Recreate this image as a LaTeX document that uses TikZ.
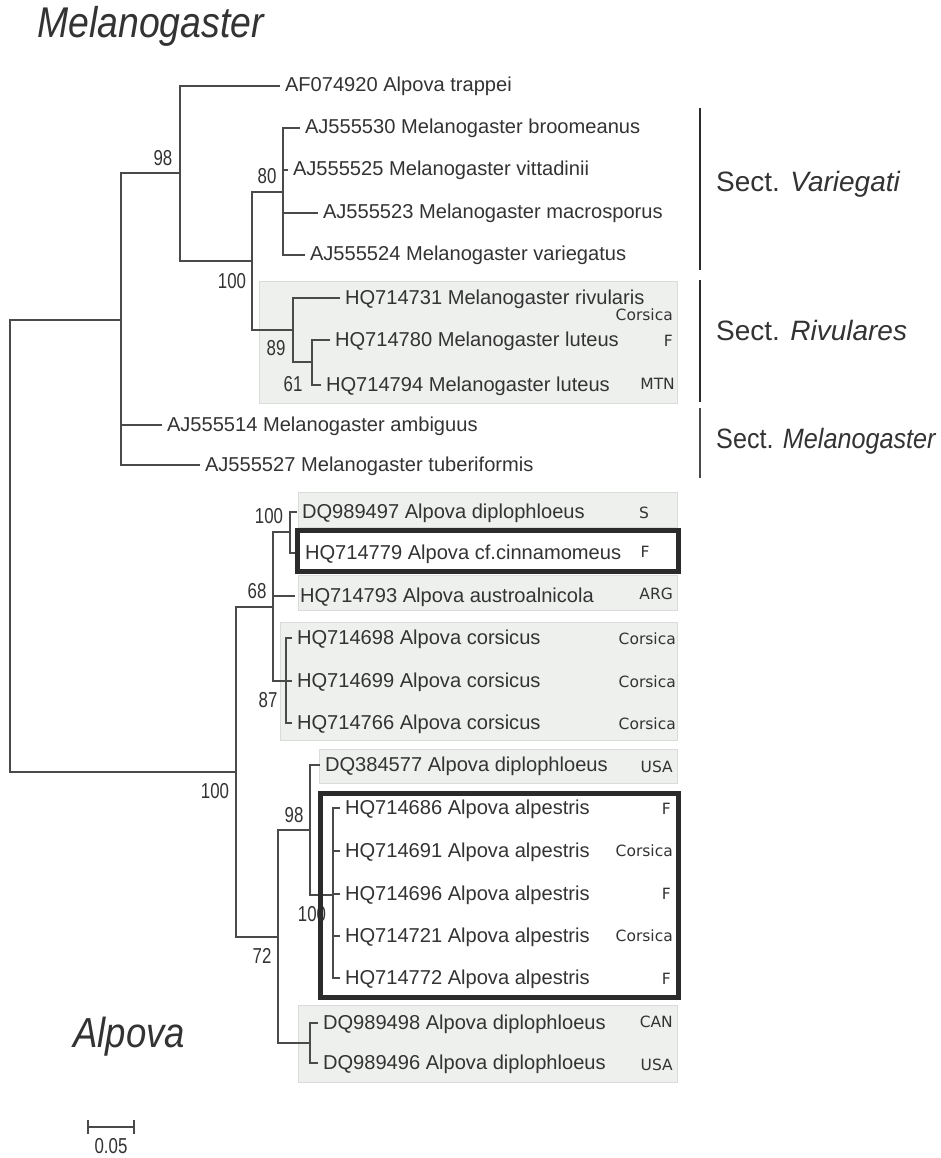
\documentclass[tikz,border=0pt]{standalone}
\usepackage{fontspec}
\setmainfont{Liberation Sans}
\newfontfamily\regfont{DejaVu Sans}
\definecolor{txt}{HTML}{333333}
\definecolor{br}{HTML}{4A4A4A}
\definecolor{boxfill}{HTML}{EEF0EE}
\definecolor{boxedge}{HTML}{D9DCD9}
\definecolor{thick}{HTML}{2B2B2B}
\newcommand{\bsn}[1]{\scalebox{0.78}[1]{#1}}
\begin{document}
\begin{tikzpicture}[x=1pt,y=-1pt,
 branch/.style={draw=br, line width=1.1pt},
 leaf/.style={anchor=west, inner xsep=5pt, inner ysep=0pt, outer sep=0pt, text=txt, font=\fontsize{20.1}{24}\selectfont, text height=15pt, text depth=3pt},
 reg/.style={anchor=east, inner sep=0pt, text=txt, font=\regfont\fontsize{15.5}{17}\selectfont, text height=11pt, text depth=0pt},
 bs/.style={inner sep=0pt, text=txt, font=\fontsize{21.6}{24}\selectfont, text height=15.5pt, text depth=0pt},
 shade/.style={fill=boxfill, draw=boxedge, line width=0.8pt},
 hilite/.style={draw=thick, line width=5pt},
 sect/.style={anchor=west, inner sep=0pt, text=txt, font=\fontsize{28}{32}\selectfont, text height=20pt, text depth=0pt},
 bar/.style={draw=thick, line width=2pt},
 big/.style={anchor=base west, inner sep=0pt, text=txt, font=\fontsize{43}{48}\selectfont\itshape},
]
\useasboundingbox (0,0) rectangle (940,1158);
\fill[white] (0,0) rectangle (940,1158);

% shaded boxes
\draw[shade] (259,281) rectangle (677,403);
\draw[shade] (298,492) rectangle (677,527);
\draw[shade] (298,575) rectangle (677,610);
\draw[shade] (280,622) rectangle (677,740);
\draw[shade] (319,749) rectangle (677,783);
\draw[shade] (298,1005) rectangle (677,1082);
\fill[white] (297,530) rectangle (678,571);
\fill[white] (320,793) rectangle (678,997);

% titles
\node[big] (title) at (37,38) {\scalebox{0.87}[1]{Melanogaster}};
\node[big, font=\fontsize{42}{48}\selectfont\itshape] (alp) at (73,1047) {\scalebox{0.87}[1]{Alpova}};

% internal nodes
\coordinate (R) at (10,546);
\coordinate (M0) at (121,320);
\coordinate (M98) at (180,173);
\coordinate (M100) at (252,261);
\coordinate (M80) at (283,192);
\coordinate (M89) at (293,330);
\coordinate (M61) at (312,362);
\coordinate (A100) at (236,772);
\coordinate (A68) at (273,607);
\coordinate (A100b) at (290,532);
\coordinate (A87) at (286,681);
\coordinate (A72) at (278,937);
\coordinate (A98) at (310,830);
\coordinate (A100c) at (333,895);
\coordinate (Abot) at (310,1043);

% leaves
\node[leaf] (l1) at (280,86) {AF074920 Alpova trappei};
\node[leaf] (l2) at (300,128) {AJ555530 Melanogaster broomeanus};
\node[leaf] (l3) at (288,170) {AJ555525 Melanogaster vittadinii};
\node[leaf] (l4) at (318,213) {AJ555523 Melanogaster macrosporus};
\node[leaf] (l5) at (305,255) {AJ555524 Melanogaster variegatus};
\node[leaf] (l6) at (340,298) {HQ714731 Melanogaster rivularis};
\node[leaf] (l7) at (330,340) {HQ714780 Melanogaster luteus};
\node[leaf] (l8) at (321,385) {HQ714794 Melanogaster luteus};
\node[leaf] (l9) at (162,425) {AJ555514 Melanogaster ambiguus};
\node[leaf] (l10) at (200,465) {AJ555527 Melanogaster tuberiformis};
\node[leaf] (l11) at (297,512) {DQ989497 Alpova diplophloeus};
\node[leaf] (l12) at (300,553) {HQ714779 Alpova cf.cinnamomeus};
\node[leaf] (l13) at (295,596) {HQ714793 Alpova austroalnicola};
\node[leaf] (l14) at (292,638) {HQ714698 Alpova corsicus};
\node[leaf] (l15) at (292,681) {HQ714699 Alpova corsicus};
\node[leaf] (l16) at (292,723) {HQ714766 Alpova corsicus};
\node[leaf] (l17) at (320,765) {DQ384577 Alpova diplophloeus};
\node[leaf] (l18) at (340,808) {HQ714686 Alpova alpestris};
\node[leaf] (l19) at (340,851) {HQ714691 Alpova alpestris};
\node[leaf] (l20) at (340,894) {HQ714696 Alpova alpestris};
\node[leaf] (l21) at (340,936) {HQ714721 Alpova alpestris};
\node[leaf] (l22) at (340,978) {HQ714772 Alpova alpestris};
\node[leaf] (l23) at (318,1023) {DQ989498 Alpova diplophloeus};
\node[leaf] (l24) at (318,1063) {DQ989496 Alpova diplophloeus};

% branches
\draw[branch] (R) |- (M0);
\draw[branch] (R) |- (A100);
\draw[branch] (M0) |- (M98);
\draw[branch] (M0) |- (l9.west);
\draw[branch] (M0) |- (l10.west);
\draw[branch] (M98) |- (l1.west);
\draw[branch] (M98) |- (M100);
\draw[branch] (M100) |- (M80);
\draw[branch] (M100) |- (M89);
\draw[branch] (M80) |- (l2.west);
\draw[branch] (M80) |- (l3.west);
\draw[branch] (M80) |- (l4.west);
\draw[branch] (M80) |- (l5.west);
\draw[branch] (M89) |- (l6.west);
\draw[branch] (M89) |- (M61);
\draw[branch] (M61) |- (l7.west);
\draw[branch] (M61) |- (l8.west);
\draw[branch] (A100) |- (A68);
\draw[branch] (A100) |- (A72);
\draw[branch] (A68) |- (A100b);
\draw[branch] (A68) |- (l13.west);
\draw[branch] (A68) |- (A87);
\draw[branch] (A100b) |- (l11.west);
\draw[branch] (A100b) |- (l12.west);
\draw[branch] (A87) |- (l14.west);
\draw[branch] (A87) |- (l15.west);
\draw[branch] (A87) |- (l16.west);
\draw[branch] (A72) |- (A98);
\draw[branch] (A72) |- (Abot);
\draw[branch] (A98) |- (l17.west);
\draw[branch] (A98) |- (A100c);
\foreach \n in {l18,l19,l20,l21,l22} \draw[branch] (A100c) |- (\n.west);
\draw[branch] (Abot) |- (l23.west);
\draw[branch] (Abot) |- (l24.west);

% bootstrap values
\node[bs] (b1) at (163,158) {\bsn{98}};
\node[bs] (b2) at (267,176) {\bsn{80}};
\node[bs] (b3) at (232,281) {\bsn{100}};
\node[bs] (b4) at (276,348) {\bsn{89}};
\node[bs] (b5) at (293,384) {\bsn{61}};
\node[bs] (b6) at (269,516) {\bsn{100}};
\node[bs] (b7) at (257,591) {\bsn{68}};
\node[bs] (b8) at (268,700) {\bsn{87}};
\node[bs] (b9) at (215,791) {\bsn{100}};
\node[bs] (b10) at (294,815) {\bsn{98}};
\node[bs] (b11) at (312,914) {\bsn{100}};
\node[bs] (b12) at (262,956) {\bsn{72}};

% highlighted boxes
\draw[hilite] (297,530) rectangle (678,571);
\draw[hilite] (320,793) rectangle (678,997);

% region labels
\node[reg] (r1) at (673,315) {Corsica};
\node[reg] (r2) at (673,341) {F};
\node[reg] (r3) at (675,384) {MTN};
\node[reg, anchor=center] (r4) at (644,513) {S};
\node[reg, anchor=center] (r5) at (645,552) {F};
\node[reg] (r6) at (673,594) {ARG};
\node[reg] (r7) at (676,639) {Corsica};
\node[reg] (r8) at (676,682) {Corsica};
\node[reg] (r9) at (676,724) {Corsica};
\node[reg] (r10) at (673,767) {USA};
\node[reg] (r11) at (671,809) {F};
\node[reg] (r12) at (673,851) {Corsica};
\node[reg] (r13) at (671,894) {F};
\node[reg] (r14) at (673,936) {Corsica};
\node[reg] (r15) at (671,979) {F};
\node[reg] (r16) at (673,1022) {CAN};
\node[reg] (r17) at (673,1065) {USA};

% section bars and labels
\coordinate (v1) at (700,108); \coordinate (v2) at (700,270);
\coordinate (r1a) at (700,280); \coordinate (r1b) at (700,402);
\coordinate (m1) at (700,408); \coordinate (m2) at (700,478);
\draw[bar] (v1) -- (v2);
\draw[bar] (r1a) -- (r1b);
\draw[bar, line width=1.1pt, draw=br] (m1) -- (m2);
\node[sect] (s1) at (716,182) {Sect. \textit{Variegati}};
\node[sect] (s2) at (716,330) {Sect. \textit{Rivulares}};
\node[sect] (s3) at (716,438) {\scalebox{0.9}[1]{Sect. \textit{Melanogaster}}};

% scale bar
\coordinate (sb1) at (88,1127);
\coordinate (sb2) at (134,1127);
\draw[branch] (sb1) -- (sb2);
\draw[branch] ([yshift=-7pt]sb1) -- ([yshift=7pt]sb1);
\draw[branch] ([yshift=-7pt]sb2) -- ([yshift=7pt]sb2);
\node[bs] (sbl) at (111,1146) {\bsn{0.05}};
\end{tikzpicture}
\end{document}
